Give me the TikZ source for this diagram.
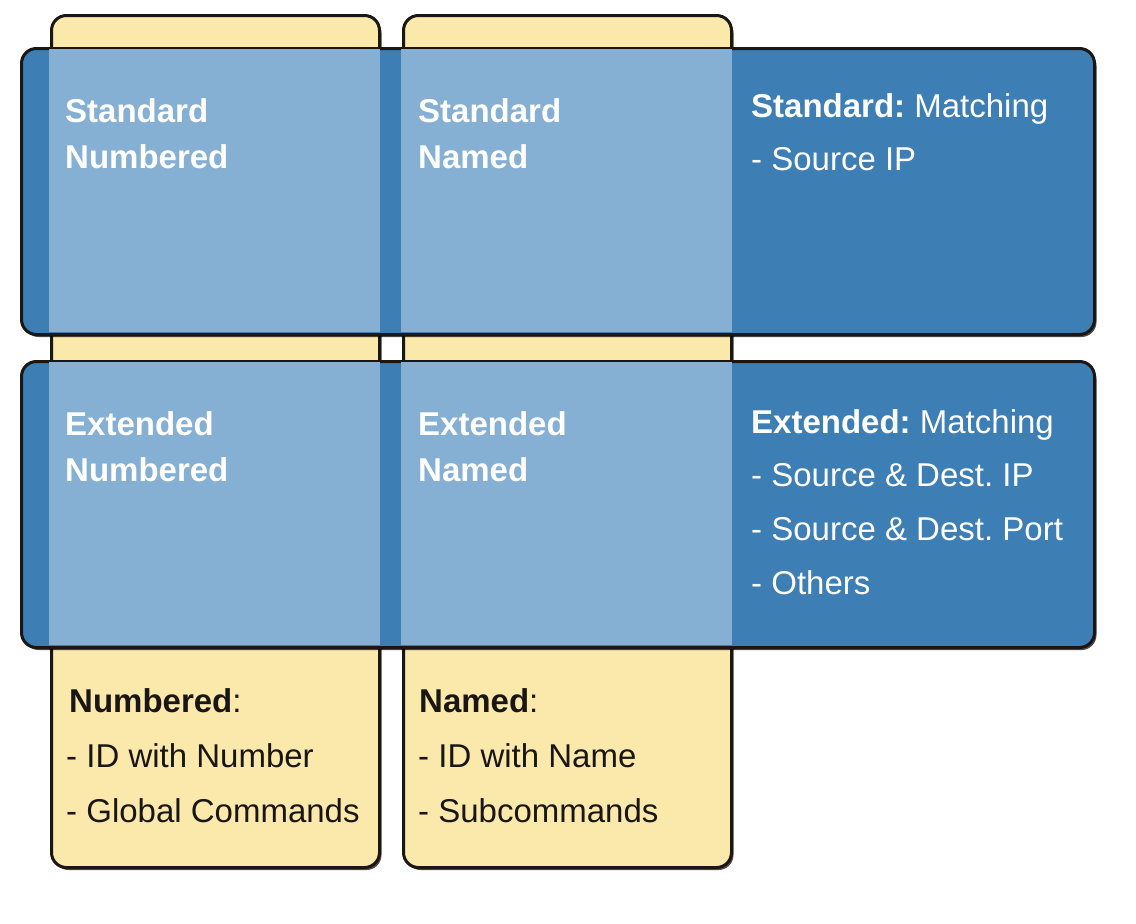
\documentclass[tikz,border=0pt]{standalone}
\usepackage{fontspec}
\setmainfont{Liberation Sans}
\usetikzlibrary{shadows}
\definecolor{dblue}{RGB}{61,126,180}
\definecolor{lblue}{RGB}{133,176,212}
\definecolor{ylw}{RGB}{251,232,171}
\definecolor{ink}{RGB}{25,22,20}
\frenchspacing
\begin{document}
\begin{tikzpicture}[x=1pt,y=-1pt,
  colbox/.style={draw=ink, line width=3pt, fill=ylw, rounded corners=15pt,
    anchor=north west, inner sep=0pt, minimum width=328pt, minimum height=852pt,
    drop shadow={shadow xshift=2pt, shadow yshift=-2.5pt, fill=black, opacity=0.7}},
  rowbox/.style={draw=ink, line width=3pt, fill=dblue, rounded corners=15pt,
    anchor=north west, inner sep=0pt, minimum width=1073pt, minimum height=286pt,
    drop shadow={shadow xshift=2pt, shadow yshift=-2.5pt, fill=black, opacity=0.7}},
  wt/.style={anchor=base west, inner sep=0pt, text=white, font=\fontsize{33}{40}\selectfont},
  bt/.style={anchor=base west, inner sep=0pt, text=ink, font=\fontsize{33}{40}\selectfont},
]
\useasboundingbox (0,0) rectangle (1136,924);
% yellow columns
\node[colbox] (col1) at (50,14) {};
\node[colbox] (col2) at (402,14) {};
% blue rows
\node[rowbox] (row1) at (20,47) {};
\node[rowbox] (row2) at (20,360) {};
% overlaps
\fill[lblue] (48.5,48.5) rectangle (379.5,331.5);
\fill[lblue] (400.5,48.5) rectangle (731.5,331.5);
\fill[lblue] (48.5,361.5) rectangle (379.5,644.5);
\fill[lblue] (400.5,361.5) rectangle (731.5,644.5);
% row 1 texts
\node[wt] (sn1) at (65,122) {\bfseries Standard};
\node[wt] (sn2) at (65,168) {\bfseries Numbered};
\node[wt] (sa1) at (418,122) {\bfseries Standard};
\node[wt] (sa2) at (418,168) {\bfseries Named};
\node[wt] (sm1) at (751,117) {\textbf{Standard:} Matching};
\node[wt] (sm2) at (751,170) {- Source IP};
% row 2 texts
\node[wt] (en1) at (65,435) {\bfseries Extended};
\node[wt] (en2) at (65,481) {\bfseries Numbered};
\node[wt] (ea1) at (418,435) {\bfseries Extended};
\node[wt] (ea2) at (418,481) {\bfseries Named};
\node[wt] (em1) at (751,433) {\textbf{Extended:} Matching};
\node[wt] (em2) at (751,486) {- Source \& Dest. IP};
\node[wt] (em3) at (751,540) {- Source \& Dest. Port};
\node[wt] (em4) at (751,594) {- Others};
% column texts
\node[bt] (cn1) at (69,712) {\textbf{Numbered}:};
\node[bt] (cn2) at (66,767) {- ID with Number};
\node[bt] (cn3) at (66,822) {- Global Commands};
\node[bt] (ca1) at (419,712) {\textbf{Named}:};
\node[bt] (ca2) at (418,767) {- ID with Name};
\node[bt] (ca3) at (418,822) {- Subcommands};
\end{tikzpicture}
\end{document}
